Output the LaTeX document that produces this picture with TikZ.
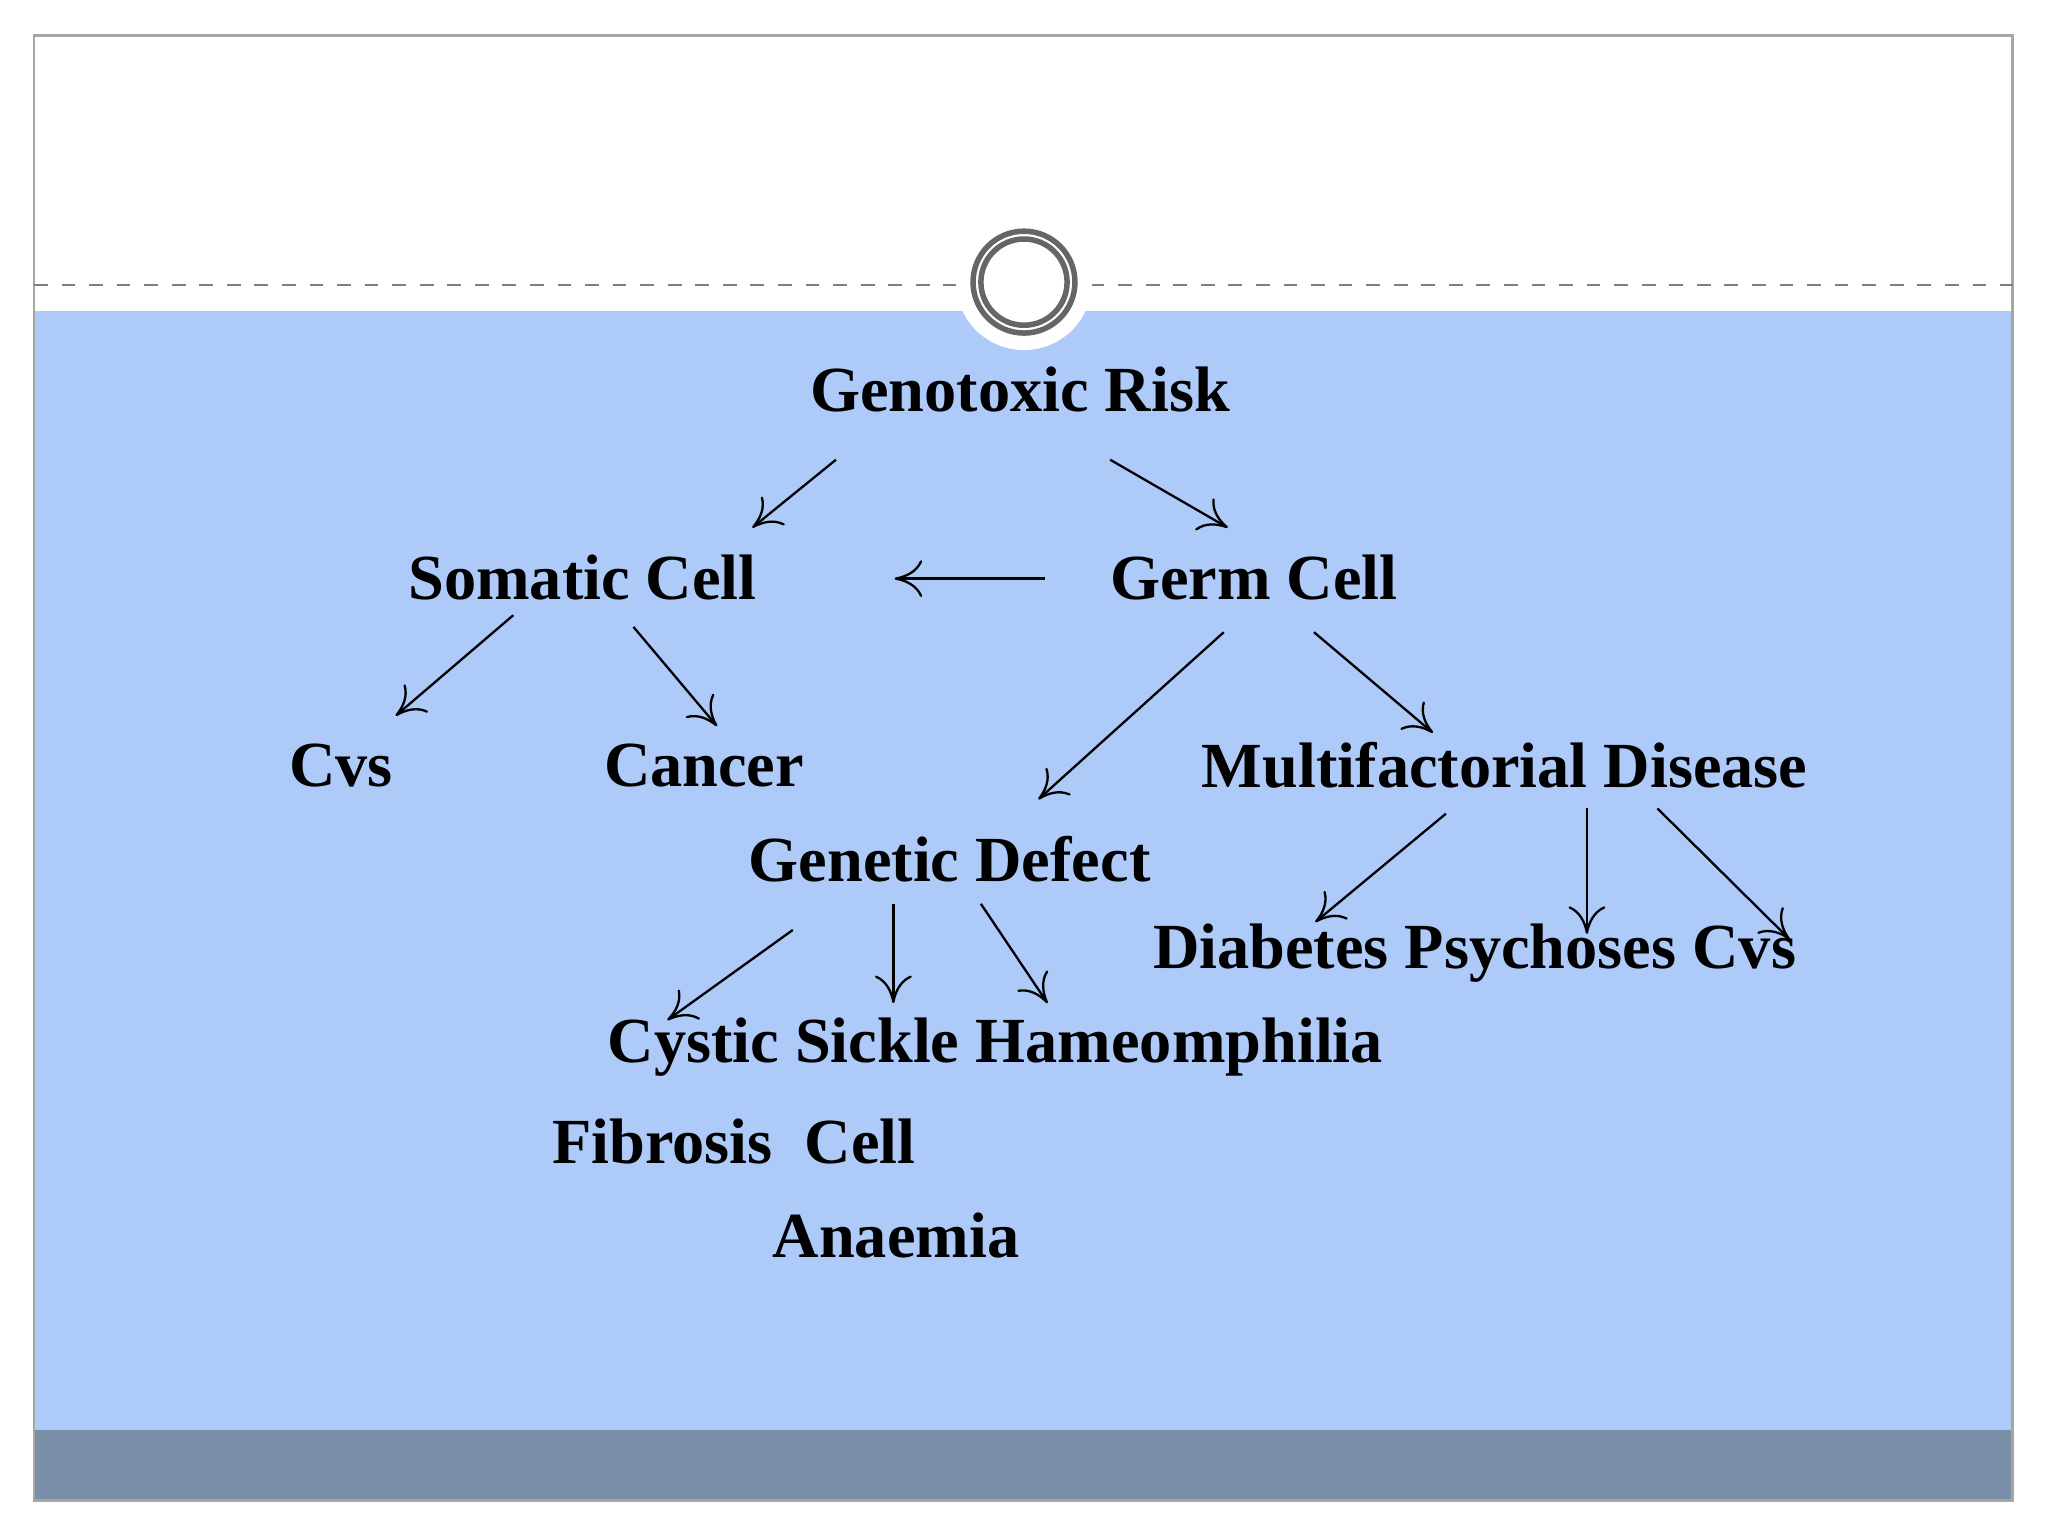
\documentclass[tikz,border=0pt]{standalone}
\usepackage{fontspec}
\usetikzlibrary{arrows.meta}
\setmainfont{Liberation Serif}
\definecolor{bgblue}{RGB}{173,202,249}
\definecolor{barcol}{RGB}{124,143,169}
\begin{document}
\begin{tikzpicture}[x=0.01cm,y=-0.01cm,
  lab/.style={font=\fontsize{14}{16}\selectfont\bfseries,inner sep=0pt},
  arr/.style={-{To[length=6pt,width=8pt]},line width=0.5pt}]
\useasboundingbox (0,0) rectangle (1568,1176);
\fill[white] (0,0) rectangle (1568,1176);
\fill[bgblue] (26,238) rectangle (1541,1095);
\fill[barcol] (26,1095) rectangle (1541,1149);
\draw[gray!70,line width=0.6pt] (26,27) rectangle (1541,1149);
\draw[gray,dashed,line width=0.4pt] (26,218) -- (735,218);
\draw[gray,dashed,line width=0.4pt] (835,218) -- (1541,218);
\fill[white] (784,216) circle (52);
\draw[gray!80!black,line width=1.2pt,fill=white] (784,216) circle (39);
\draw[gray!80!black,line width=1.2pt] (784,216) circle (33);
\node[lab] (gr) at (781,298) {Genotoxic Risk};
\node[lab] (sc) at (446,442) {Somatic Cell};
\node[lab] (gc) at (960,442) {Germ Cell};
\node[lab] (cvs) at (261,586) {Cvs};
\node[lab] (can) at (539,586) {Cancer};
\node[lab] (md) at (1152,586) {Multifactorial Disease};
\node[lab] (gd) at (727,658) {Genetic Defect};
\node[lab] (dpc) at (1129,730) {Diabetes Psychoses Cvs};
\node[lab] (csh) at (762,802) {Cystic Sickle Hameomphilia};
\node[lab] (fc) at (562,874) {Fibrosis\ \ Cell};
\node[lab] (an) at (686,946) {Anaemia};
\foreach \n/\a/\b/\c/\d in {a1/640/352/576/404, a2/850/352/940/404, a3/800/443/685/443,
  a4/393/471/303/548, a5/485/480/549/556, a6/937/484/795/612, a7/1006/484/1097/561,
  a8/1107/623/1007/706, a9/1215/619/1215/715, a10/1269/619/1370/719,
  a11/607/712/511/781, a12/684/692/684/768, a13/751/692/802/768}{
  \coordinate (\n s) at (\a,\b); \coordinate (\n e) at (\c,\d);
  \draw[arr] (\n s) -- (\n e);}
\end{tikzpicture}
\end{document}
